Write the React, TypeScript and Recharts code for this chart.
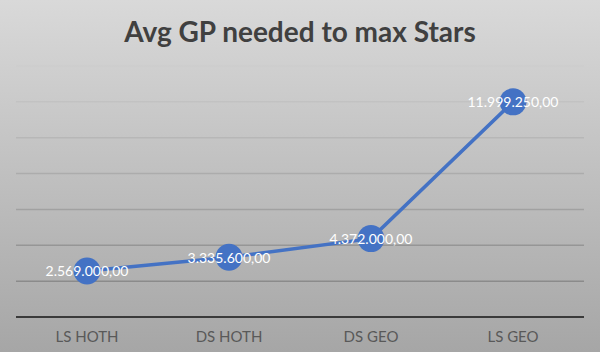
import React from "react";
import { LineChart, Line, XAxis, YAxis, CartesianGrid, LabelList } from "recharts";

const categories = ["LS HOTH", "DS HOTH", "DS GEO", "LS GEO"];
const gpValues = [2569000, 3335600, 4372000, 11999250];
const yTicks = [0, 2000000, 4000000, 6000000, 8000000, 10000000, 12000000, 14000000];

const data = categories.map((c, i) => ({ name: c, gp: gpValues[i] }));

const fmt = (v: number) =>
  v.toLocaleString("de-DE", { minimumFractionDigits: 2, maximumFractionDigits: 2 });

const FONT = "Lato, 'Open Sans', sans-serif";

const PointLabel = (props: any) => {
  const { x, y, value } = props;
  return (
    <text
      x={x}
      y={y}
      textAnchor="middle"
      dominantBaseline="central"
      fill="#ffffff"
      fontSize={14}
      fontFamily={FONT}
    >
      {fmt(value)}
    </text>
  );
};

const XTick = (props: any) => {
  const { x, y, payload } = props;
  return (
    <text x={x} y={y} dy={17} textAnchor="middle" fill="#595959" fontSize={15} fontFamily={FONT}>
      {payload.value}
    </text>
  );
};

export default function App() {
  return (
    <div
      style={{
        position: "fixed",
        left: 0,
        top: 0,
        width: 600,
        height: 352,
        background: "linear-gradient(to bottom, #d9d9d9 0%, #a6a6a6 100%)",
        overflow: "hidden",
      }}
    >
      <svg width={600} height={60} style={{ position: "absolute", left: 0, top: 0 }}>
        <text
          x={300}
          y={42}
          textAnchor="middle"
          fill="#404040"
          fontSize={28}
          fontWeight={700}
          fontFamily={FONT}
        >
          Avg GP needed to max Stars
        </text>
      </svg>
      <LineChart
        width={600}
        height={352}
        data={data}
        margin={{ top: 66, right: 16, left: 16, bottom: 0 }}
        style={{ position: "absolute", left: 0, top: 0 }}
      >
        <defs>
          <linearGradient id="gridGrad" gradientUnits="userSpaceOnUse" x1="0" y1="66" x2="0" y2="317">
            <stop offset="0%" stopColor="#cdcdcd" />
            <stop offset="100%" stopColor="#808080" />
          </linearGradient>
        </defs>
        <CartesianGrid
          vertical={false}
          stroke="url(#gridGrad)"
          strokeWidth={1.5}
          horizontalValues={yTicks}
        />
        <XAxis
          dataKey="name"
          axisLine={{ stroke: "#3a3a3a", strokeWidth: 2 }}
          tickLine={false}
          tick={<XTick />}
          height={35}
          interval={0}
          padding={{ left: 71, right: 71 }}
        />
        <YAxis hide domain={[0, 14000000]} ticks={yTicks} />
        <Line
          type="linear"
          dataKey="gp"
          stroke="#4472C4"
          strokeWidth={3.5}
          dot={{ r: 13.5, fill: "#4472C4", stroke: "#4472C4", strokeWidth: 0 }}
          activeDot={false}
          isAnimationActive={false}
        >
          <LabelList dataKey="gp" content={<PointLabel />} />
        </Line>
      </LineChart>
    </div>
  );
}
